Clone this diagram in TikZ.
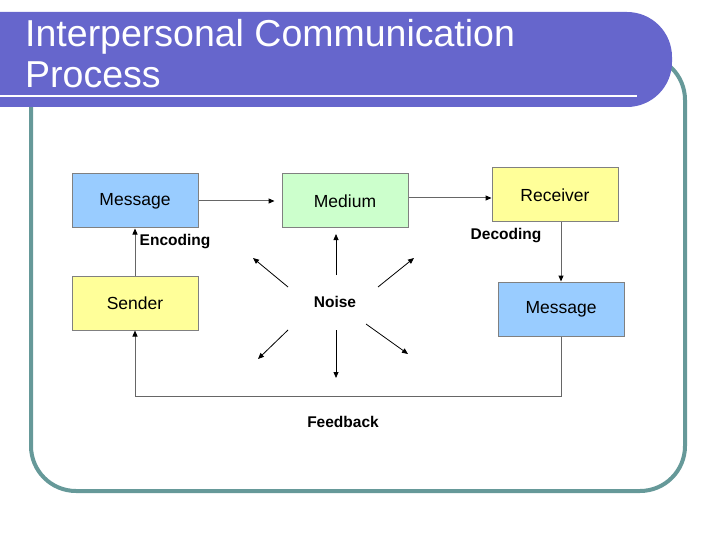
\documentclass[tikz,border=0pt]{standalone}
\usepackage{fontspec}
\setmainfont{Liberation Sans}
\usetikzlibrary{arrows.meta}
\definecolor{titleblue}{HTML}{6666CC}
\definecolor{frameteal}{HTML}{669999}
\definecolor{boxgray}{HTML}{808080}
\definecolor{conngray}{HTML}{666666}
\definecolor{boxblue}{HTML}{99CCFF}
\definecolor{boxgreen}{HTML}{CCFFCC}
\definecolor{boxyellow}{HTML}{FFFF99}
\tikzset{
  box/.style={draw=boxgray, line width=1pt, minimum width=126pt, minimum height=54pt, inner sep=0pt, font=\fontsize{17.5}{20}\selectfont},
  conn/.style={draw=conngray, line width=1pt, -{Triangle[length=6pt,width=5pt,color=black]}},
  noisearrow/.style={draw=black, line width=0.8pt, -{Triangle[length=6pt,width=5pt]}},
  lbl/.style={font=\fontsize{15.5}{18}\selectfont\bfseries, inner sep=0pt}
}
\begin{document}
\begin{tikzpicture}[x=1pt,y=-1pt]
\useasboundingbox (0,0) rectangle (720,540);
\clip (0,0) rectangle (720,540);
% frame
\draw[frameteal, line width=4pt, rounded corners=45pt] (31,55) rectangle (685,491);
% title bar
\fill[titleblue, rounded corners=45pt] (-80,12) rectangle (672,107);
\draw[white, line width=2pt] (-5,96) -- (637,96);
\node[anchor=base west, text=white, inner sep=0pt, font=\fontsize{37.5}{37}\selectfont] (t1) at (25,47) {Interpersonal Communication};
\node[anchor=base west, text=white, inner sep=0pt, font=\fontsize{37.5}{37}\selectfont] (t2) at (25,88) {Process};
% boxes
\node[box, fill=boxblue] (msg) at (135,201) {Message};
\node[box, fill=boxgreen] (med) at (345,201) {Medium};
\node[box, fill=boxyellow] (rec) at (555,195) {Receiver};
\node[box, fill=boxyellow] (snd) at (135,303) {Sender};
\node[box, fill=boxblue] (msg2) at (561,309) {Message};
% connectors
\draw[conn, shorten >=7pt] (msg) -- (med);
\draw[conn] ([yshift=3pt]med.east) -- ([yshift=-3pt]rec.west);
\draw[conn] (msg2.north |- rec.south) -- (msg2.north);
\draw[conn] (snd.north) -- (msg.south);
\draw[conn] (msg2.south) -- ++(0,60) -| (snd.south);
% labels
\node[lbl] (enc) at (175,242) {Encoding};
\node[lbl] (dec) at (506,236) {Decoding};
\node[lbl] (fb) at (343,422) {Feedback};
\node[lbl] (noise) at (335,302) {Noise};
% noise arrows
\coordinate (s1) at (336,275); \coordinate (e1) at (336,234);
\coordinate (s2) at (288,287); \coordinate (e2) at (253,258);
\coordinate (s3) at (378,287); \coordinate (e3) at (414,258);
\coordinate (s4) at (288,330); \coordinate (e4) at (258,359);
\coordinate (s5) at (336,330); \coordinate (e5) at (336,378);
\coordinate (s6) at (366,324); \coordinate (e6) at (408,354);
\foreach \i in {1,...,6} \draw[noisearrow] (s\i) -- (e\i);
\end{tikzpicture}
\end{document}
